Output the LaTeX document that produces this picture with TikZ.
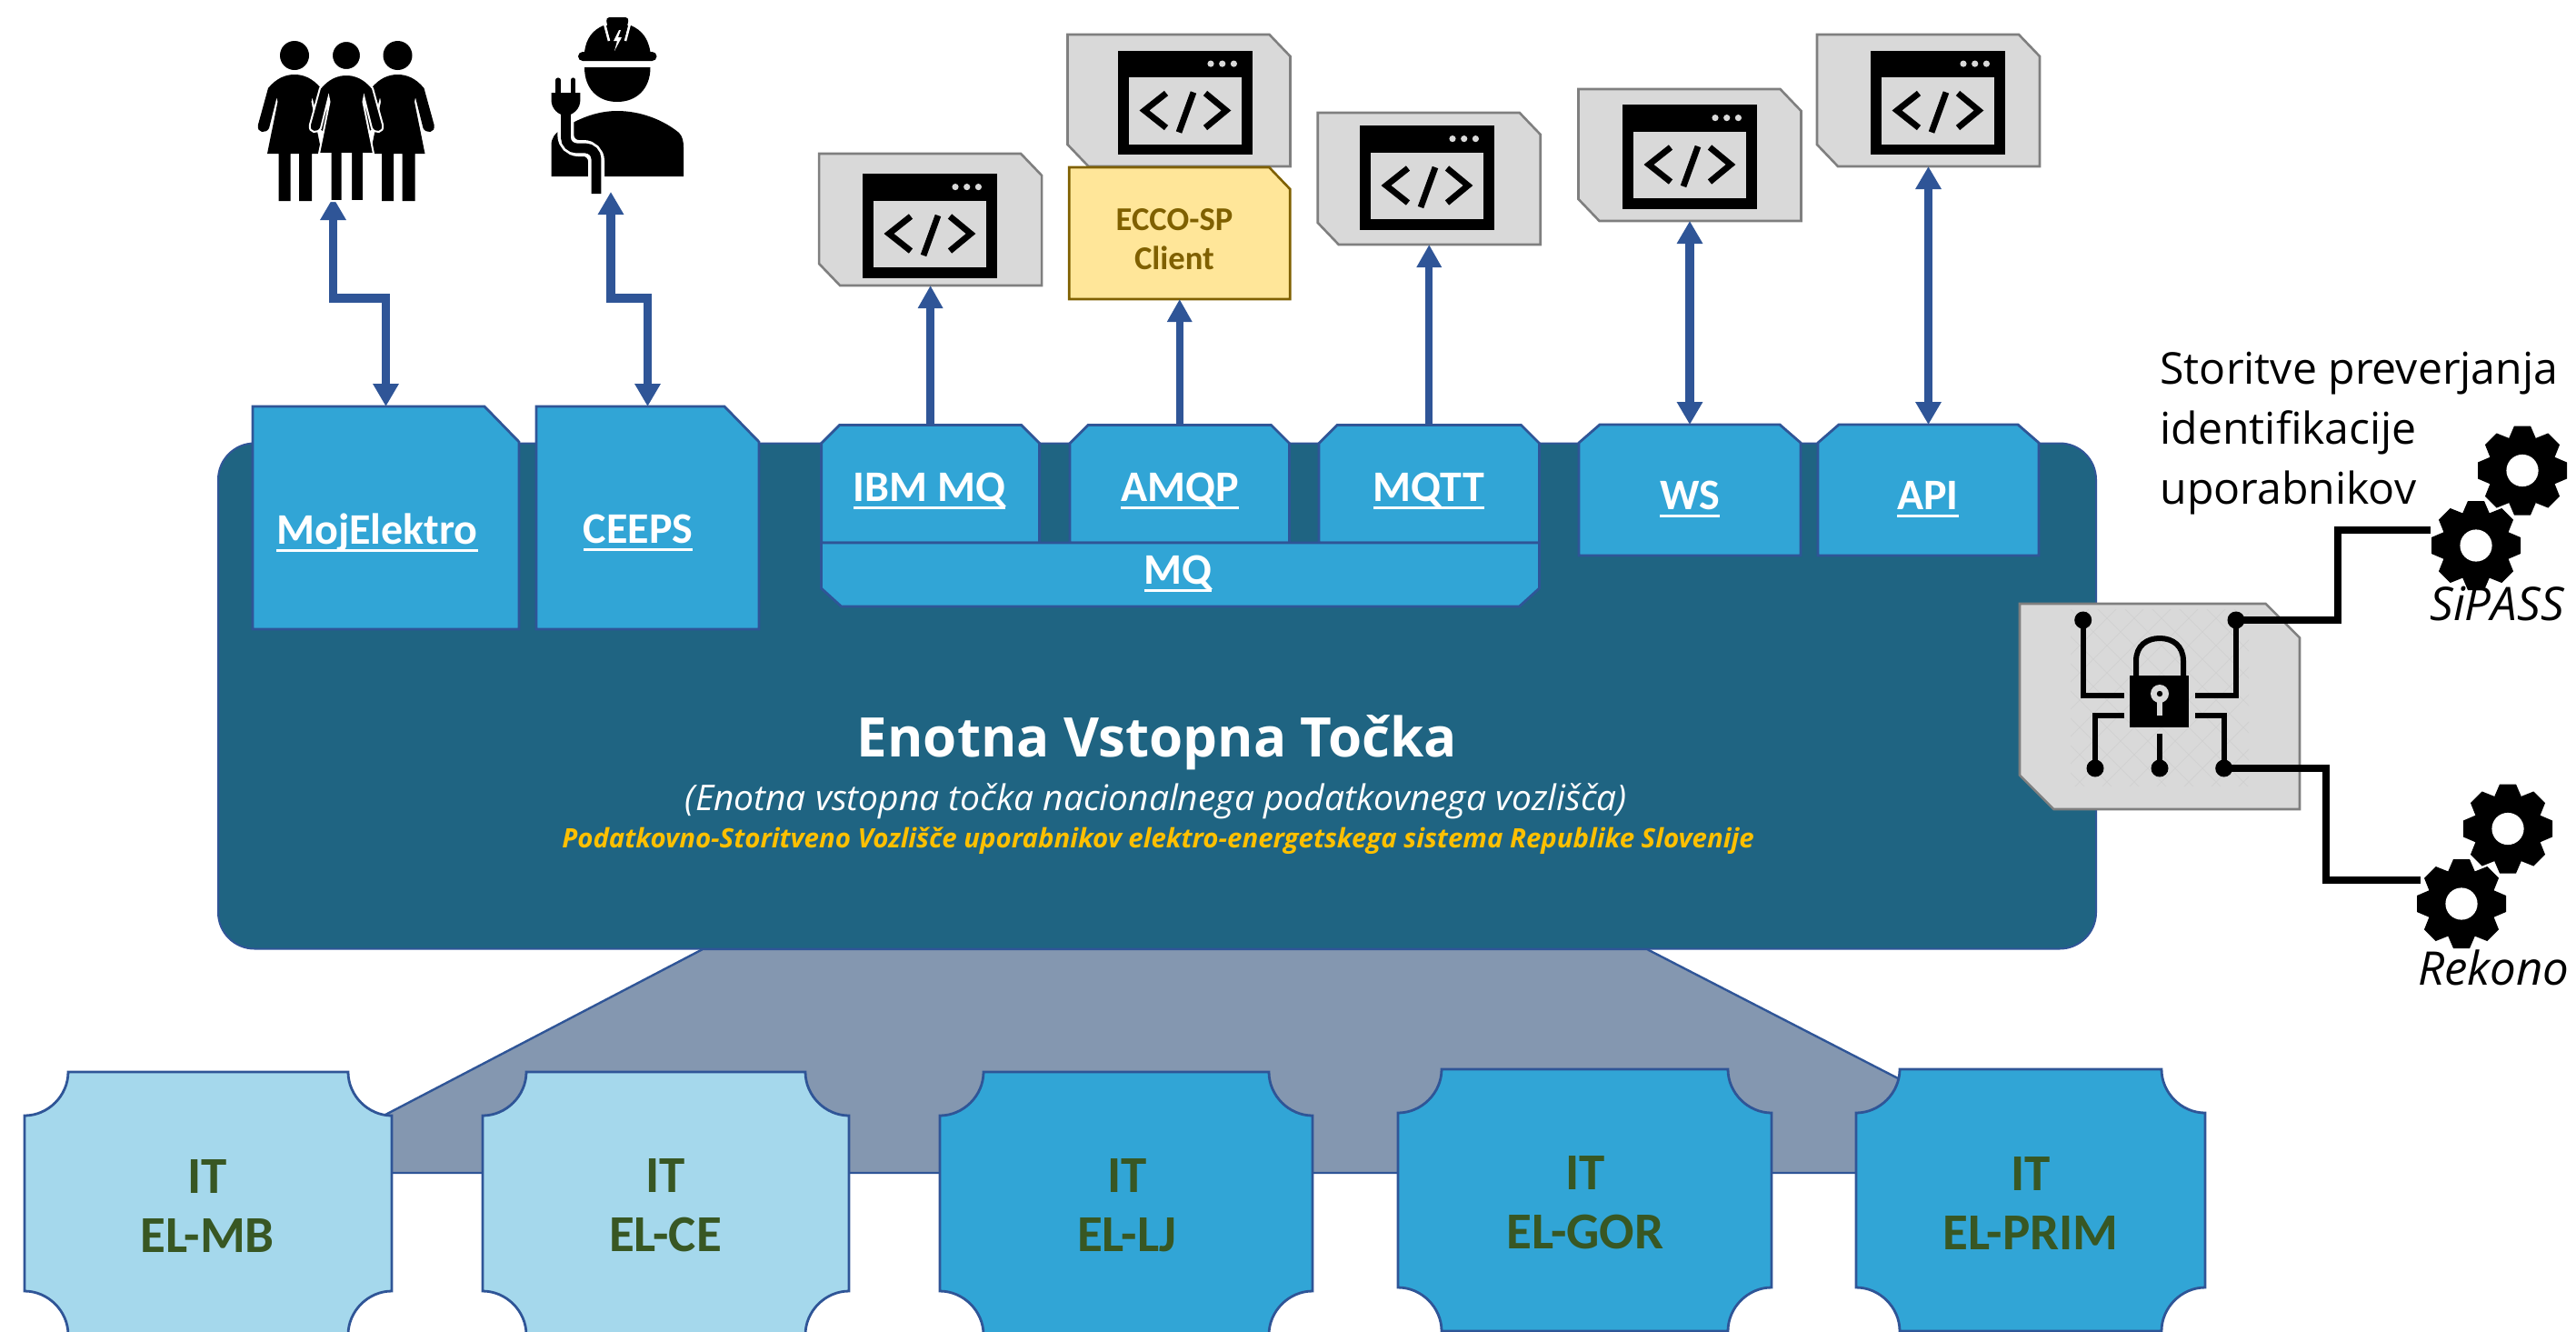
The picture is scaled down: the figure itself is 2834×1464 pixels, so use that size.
\documentclass[tikz,border=0pt]{standalone}
\usepackage{fontspec}
\usetikzlibrary{arrows.meta}
\setmainfont{Carlito}
\newfontfamily\osans{Open Sans}
\definecolor{linkblue}{HTML}{2F5597}
\definecolor{deep}{HTML}{1F6482}
\definecolor{mid}{HTML}{31A5D6}
\definecolor{pale}{HTML}{A5D8EC}
\definecolor{slate}{HTML}{8497B0}
\definecolor{greyfill}{HTML}{D9D9D9}
\definecolor{greyline}{HTML}{7F7F7F}
\definecolor{sand}{HTML}{FFE699}
\definecolor{brownish}{HTML}{7F6000}
\definecolor{olive}{HTML}{385723}
\definecolor{gold}{HTML}{FFC000}
\newcommand{\ulab}[1]{\setbox0\hbox{#1}\leavevmode\rlap{\rule[-4pt]{\wd0}{1.3pt}}\box0}
\tikzset{
  anchorbox/.style={rectangle,inner sep=0pt,outer sep=0pt},
  bluepoly/.style={line width=1.4pt,draw=linkblue,fill=mid},
  greypoly/.style={line width=1.3pt,draw=greyline,fill=greyfill},
  sandpoly/.style={line width=1.3pt,draw=brownish,fill=sand},
  lab/.style={text=white,font=\fontsize{24}{28}\selectfont\bfseries,inner sep=0pt,outer sep=0pt},
  itlab/.style={text=olive,font=\fontsize{28.5}{32.5}\selectfont\bfseries,align=center,inner sep=0pt},
  updown/.style={draw=linkblue,line width=4.6pt,{Triangle[length=12.5pt,width=13.5pt]}-{Triangle[length=12.5pt,width=13.5pt]}},
  uponly/.style={draw=linkblue,line width=4.2pt,-{Triangle[length=12.5pt,width=13pt]}},
  wire/.style={draw=black,line width=3.6pt},
  trace/.style={draw=black,line width=2.8pt},
  dotnode/.style={circle,fill=black,inner sep=0pt,outer sep=0pt,minimum size=9.5pt},
  sideitalic/.style={font=\osans\itshape\fontsize{25.5}{30}\selectfont,inner sep=0pt}
}
% polygon on a named node: #1 node, #2 style, #3 xcut, #4 ycut, #5..#8 flags nw ne se sw
\newcommand{\snip}[8]{%
 \path[#2] ([xshift=#5*#3]#1.north west) -- ([xshift=-#6*#3]#1.north east) -- ([yshift=-#6*#4]#1.north east)
  -- ([yshift=#7*#4]#1.south east) -- ([xshift=-#7*#3]#1.south east) -- ([xshift=#8*#3]#1.south west)
  -- ([yshift=#8*#4]#1.south west) -- ([yshift=-#5*#4]#1.north west) -- cycle;}
% window icon: top-left corner at #1,#2
\newcommand{\winicon}[2]{%
\begin{scope}[shift={(#1,#2)}]
 \fill[black] (0,0) rectangle (148,114.5);
 \fill[greyfill] (12,29.5) rectangle (136,103);
 \foreach \dx in {102,114.7,127.4}{\fill[greyfill] (\dx,14.6) circle[radius=1.8pt];}
 \draw[black,line width=3.4pt,miter limit=10] (53,47) -- (29,66) -- (53,85);
 \draw[black,line width=3.4pt,miter limit=10] (96,47) -- (119,66) -- (96,85);
 \draw[black,line width=3.4pt] (83,46) -- (67,90);
\end{scope}}
% gear centred at #1,#2
\newcommand{\gearicon}[2]{%
\begin{scope}[shift={(#1,#2)}]
 \fill[black] (0,0) circle[radius=19pt];
 \foreach \a in {0,45,...,315}{\fill[black,rotate=\a] (-15,-35) -- (-9,-49) -- (9,-49) -- (15,-35) -- cycle;}
 \fill[white] (0,0) circle[radius=8.8pt];
\end{scope}}
% standing figure centred at x=#2
\newcommand{\figurine}[2][]{%
\begin{scope}[xshift=#2*0.5pt]
 \fill[black,#1] (0,61) circle[radius=8pt];
 \path[fill=black,#1] (-29,97) .. controls (-20,86) and (-10,82) .. (0,82) .. controls (10,82) and (20,86) .. (29,97)
   -- (40,137) .. controls (42,147) and (31,147) .. (28,141) -- (19.5,107) -- (18.5,112) -- (30,169) -- (19,169) -- (19,221) -- (5,221) -- (5,169) -- (-4.5,169) -- (-4.5,221) -- (-17.5,221) -- (-17.5,169) -- (-30,169) -- (-18.5,112) -- (-19.5,107) -- (-28,141) .. controls (-31,147) and (-42,147) .. (-40,137) -- cycle;
\end{scope}}
% notched site block: #2 x0, #3 x1, #4 top, #5 bottom, #6 fill
\newcommand{\siteblock}[6]{%
 \path[fill=#6,draw=linkblue,line width=1.4pt]
  (#2+48,#4) -- (#3-48,#4) .. controls (#3-48,#4+26) and (#3-26,#4+48) .. (#3,#4+48)
  -- (#3,#5-48) .. controls (#3-26,#5-48) and (#3-48,#5-26) .. (#3-48,#5)
  -- (#2+48,#5) .. controls (#2+48,#5-26) and (#2+26,#5-48) .. (#2,#5-48)
  -- (#2,#4+48) .. controls (#2+26,#4+48) and (#2+48,#4+26) .. (#2+48,#4) -- cycle;}
\begin{document}
\begin{tikzpicture}[x=0.5pt,y=-0.5pt]
\useasboundingbox (0,0) rectangle (2834,1464);
% funnel and main block
\path[fill=slate,draw=linkblue,line width=1.2pt] (773,1044) -- (1812,1044) -- (2090,1187) -- (2090,1290) -- (424,1290) -- (424,1226) -- cycle;
\node[rectangle,rounded corners=20pt,fill=deep,draw=linkblue,line width=1pt,minimum width=1033pt,minimum height=278pt,inner sep=0pt,outer sep=0pt] (main) at (1273,765.5) {};
% site blocks
\siteblock{a}{27}{431}{1179}{1468}{pale}
\siteblock{b}{531}{934}{1179}{1468}{pale}
\siteblock{c}{1034}{1444}{1179}{1468}{mid}
\siteblock{d}{1538}{1949}{1176}{1464}{mid}
\siteblock{e}{2042}{2426}{1176}{1464}{mid}
\node[itlab] (itmb) at (228,1326) {IT\\EL-MB};
\node[itlab] (itce) at (732,1326) {IT\\EL-CE};
\node[itlab] (itlj) at (1240,1326) {IT\\EL-LJ};
\node[itlab] (itgor) at (1744,1323) {IT\\EL-GOR};
\node[itlab] (itprim) at (2234,1323) {IT\\EL-PRIM};
% entry blocks
\node[anchorbox,minimum width=146.5pt,minimum height=122.5pt] (moj) at (424.5,569.5) {};
\snip{moj}{bluepoly}{19pt}{19.5pt}{0}{1}{0}{0}
\node[anchorbox,minimum width=122.5pt,minimum height=122.5pt] (ceeps) at (712.5,569.5) {};
\snip{ceeps}{bluepoly}{19pt}{19.5pt}{0}{1}{0}{0}
\node[anchorbox,minimum width=120pt,minimum height=64.75pt] (ibm) at (1023.6,532.25) {};
\snip{ibm}{bluepoly}{10pt}{10pt}{1}{1}{0}{0}
\node[anchorbox,minimum width=120.75pt,minimum height=64.75pt] (amqp) at (1297.75,532.25) {};
\snip{amqp}{bluepoly}{10pt}{10pt}{1}{1}{0}{0}
\node[anchorbox,minimum width=121.25pt,minimum height=64.75pt] (mqtt) at (1572.25,532.25) {};
\snip{mqtt}{bluepoly}{10pt}{10pt}{1}{1}{0}{0}
\node[anchorbox,minimum width=395pt,minimum height=35pt] (mq) at (1298.5,632) {};
\snip{mq}{bluepoly}{11pt}{10pt}{0}{0}{1}{1}
\node[anchorbox,minimum width=122pt,minimum height=72pt] (ws) at (1859,539) {};
\snip{ws}{bluepoly}{11.5pt}{10pt}{1}{1}{0}{0}
\node[anchorbox,minimum width=121.5pt,minimum height=72pt] (api) at (2121.5,539) {};
\snip{api}{bluepoly}{11.5pt}{10pt}{1}{1}{0}{0}
\node[lab] (lmoj) at (415,586) {\ulab{MojElektro}};
\node[lab] (lceeps) at (702,586) {\ulab{CEEPS}};
\node[lab] (libm) at (1022.5,540) {\ulab{IBM MQ}};
\node[lab] (lamqp) at (1298,540) {\ulab{AMQP}};
\node[lab] (lmqtt) at (1572,540) {\ulab{MQTT}};
\node[lab] (lmq) at (1296,631) {\ulab{MQ}};
\node[lab] (lws) at (1859,549) {\ulab{WS}};
\node[lab] (lapi) at (2121,549) {\ulab{API}};
% titles
\node[text=white,font=\osans\bfseries\fontsize{30}{35}\selectfont,inner sep=0pt] (title) at (1273,817) {Enotna Vstopna Točka};
\node[text=white,font=\osans\itshape\fontsize{19.5}{23}\selectfont,inner sep=0pt] (subtitle) at (1272,881) {(Enotna vstopna točka nacionalnega podatkovnega vozlišča)};
\node[text=gold,font=\osans\bfseries\itshape\fontsize{14.7}{18}\selectfont,inner sep=0pt] (hub) at (1274,925) {Podatkovno-Storitveno Vozlišče uporabnikov elektro-energetskega sistema Republike Slovenije};
% client boxes
\node[anchorbox,minimum width=122.5pt,minimum height=72.5pt] (gb1) at (1023.6,241.5) {};
\snip{gb1}{greypoly}{11.5pt}{12pt}{0}{1}{0}{1}
\node[anchorbox,minimum width=122.5pt,minimum height=72.5pt] (gb2) at (1297,110.5) {};
\snip{gb2}{greypoly}{11.5pt}{12pt}{0}{1}{0}{1}
\node[anchorbox,minimum width=122.5pt,minimum height=72.5pt] (gb3) at (1572.25,196.5) {};
\snip{gb3}{greypoly}{11.5pt}{12pt}{0}{1}{0}{1}
\node[anchorbox,minimum width=122.5pt,minimum height=72.5pt] (gb4) at (1859,170.5) {};
\snip{gb4}{greypoly}{11.5pt}{12pt}{0}{1}{0}{1}
\node[anchorbox,minimum width=122.5pt,minimum height=72.5pt] (gb5) at (2121.5,110.5) {};
\snip{gb5}{greypoly}{11.5pt}{12pt}{0}{1}{0}{1}
\winicon{949}{191}
\winicon{1230}{55.5}
\winicon{1496}{138}
\winicon{1785}{115}
\winicon{2058}{55.5}
\node[anchorbox,minimum width=121.5pt,minimum height=72.5pt] (ecco) at (1297.75,256.5) {};
\snip{ecco}{sandpoly}{11.5pt}{12pt}{0}{1}{0}{0}
\node[text=brownish,font=\fontsize{18.3}{21.6}\selectfont\bfseries,align=center,inner sep=0pt] (eccotext) at (1292,263) {ECCO-SP\\Client};
% connectors up
\draw[uponly] (ibm.north) -- (gb1.south);
\draw[uponly] (amqp.north) -- (ecco.south);
\draw[uponly] (mqtt.north) -- (gb3.south);
\draw[updown] (gb4.south) -- (ws.north);
\draw[updown] (gb5.south) -- (api.north);
\coordinate (peopleport) at (366.5,217);
\coordinate (peoplebend) at (366.5,328);
\coordinate (workerport) at (672,211);
\coordinate (workerbend) at (672,328);
\draw[updown] (peopleport) -- (peoplebend) -| (moj.north);
\draw[updown] (workerport) -- (workerbend) -| (ceeps.north);
% people
\figurine{324}
\figurine{437.5}
\figurine[draw=white,line width=1pt]{381}
% worker
\fill[black] (643,57) .. controls (645,42) and (652,33) .. (664,28) -- (694,28) .. controls (706,33) and (713,42) .. (715.5,57) -- cycle;
\draw[white,line width=1.3pt] (665,26) -- (670,45);
\draw[white,line width=1.3pt] (693,26) -- (688,45);
\fill[black,rounded corners=2pt] (666.5,19) -- (692,19) -- (687,44) -- (671,44) -- cycle;
\fill[white] (681,33) -- (675,45) -- (679,45) -- (676,56) -- (684,41) -- (680,41) -- (683,33) -- cycle;
\fill[black,rounded corners=2.5pt] (636,57) rectangle (722.5,67);
\fill[black] (643,74) -- (715.5,74) .. controls (715.5,98) and (700,112) .. (679,112) .. controls (658,112) and (643,98) .. (643,74) -- cycle;
\fill[black] (606.5,194) -- (606.5,160) .. controls (606.5,152) and (610,147) .. (618,142) .. controls (640,128) and (660,122) .. (679,122) .. controls (705,122) and (730,132) .. (747,146) .. controls (751,150) and (752,156) .. (752,162) -- (752,194) -- cycle;
\draw[white,line width=9pt,rounded corners=7pt] (622.4,126) -- (622.4,163) -- (656,163) -- (656,196);
\draw[black,line width=5.4pt,rounded corners=6pt] (622.4,126) -- (622.4,163) -- (656,163) -- (656,213);
\draw[black,line width=2.6pt,line cap=round] (614,88) -- (614,104);
\draw[black,line width=2.6pt,line cap=round] (630.6,88) -- (630.6,104);
\fill[black] (606.5,102) -- (638.4,102) -- (638.4,110) .. controls (638.4,120) and (630,127) .. (622.4,127) .. controls (615,127) and (606.5,120) .. (606.5,110) -- cycle;
% lock box
\node[anchorbox,minimum width=154pt,minimum height=113pt] (lockbox) at (2376,777) {};
\snip{lockbox}{greypoly}{18.7pt}{18.7pt}{0}{1}{0}{1}
\begin{scope}
 \clip (2278,670) rectangle (2474,864);
 \foreach \s in {-40,-10,...,600}{
  \draw[black!18,line width=.5pt] (2278+\s-200,670) -- ++(200,200);
  \draw[black!18,line width=.5pt] (2278+\s,670) -- ++(-200,200);
 }
\end{scope}
\node[dotnode] (dtl) at (2291.7,682) {};
\node[dotnode] (dtr) at (2460,682) {};
\node[dotnode] (dbl) at (2305,845) {};
\node[dotnode] (dbc) at (2376,845) {};
\node[dotnode] (dbr) at (2446.7,845) {};
\coordinate (ptl) at (2337,765);
\coordinate (ptr) at (2414.6,765);
\coordinate (pbl) at (2337,787);
\coordinate (pbr) at (2414.6,787);
\coordinate (pbc) at (2376,807);
\draw[trace] (dtl.center) |- (ptl);
\draw[trace] (dtr.center) |- (ptr);
\draw[trace] (dbl.center) |- (pbl);
\draw[trace] (dbr.center) |- (pbr);
\draw[trace] (dbc.center) -- (pbc);
\draw[black,line width=3pt] (2350,745) -- (2350,727) .. controls (2350,710) and (2362,702) .. (2376,702) .. controls (2390,702) and (2402,710) .. (2402,727) -- (2402,745);
\fill[black] (2343,743) rectangle (2408,800);
\fill[greyfill] (2376,763) circle[radius=5pt];
\fill[greyfill] (2373,765) rectangle (2379,787);
\fill[black] (2376,763) circle[radius=1.6pt];
% services
\node[anchor=north west,align=left,text=black,font=\osans\fontsize{24.1}{33}\selectfont,inner sep=0pt] (svc) at (2376,387) {Storitve preverjanja\\identifikacije\\uporabnikov};
\gearicon{2775}{517.5}
\gearicon{2724}{600}
\gearicon{2759}{911.5}
\gearicon{2708}{994}
\node[sideitalic] (sipass) at (2747,664) {SiPASS};
\node[sideitalic] (rekono) at (2743.5,1064) {Rekono};
\coordinate (sport) at (2674,583);
\coordinate (sbend) at (2572,583);
\coordinate (rport) at (2663,968);
\coordinate (rbend) at (2559,968);
\draw[wire] (dtr.center) -| (sbend) -- (sport);
\draw[wire] (dbr.center) -| (rbend) -- (rport);
\end{tikzpicture}
\end{document}
